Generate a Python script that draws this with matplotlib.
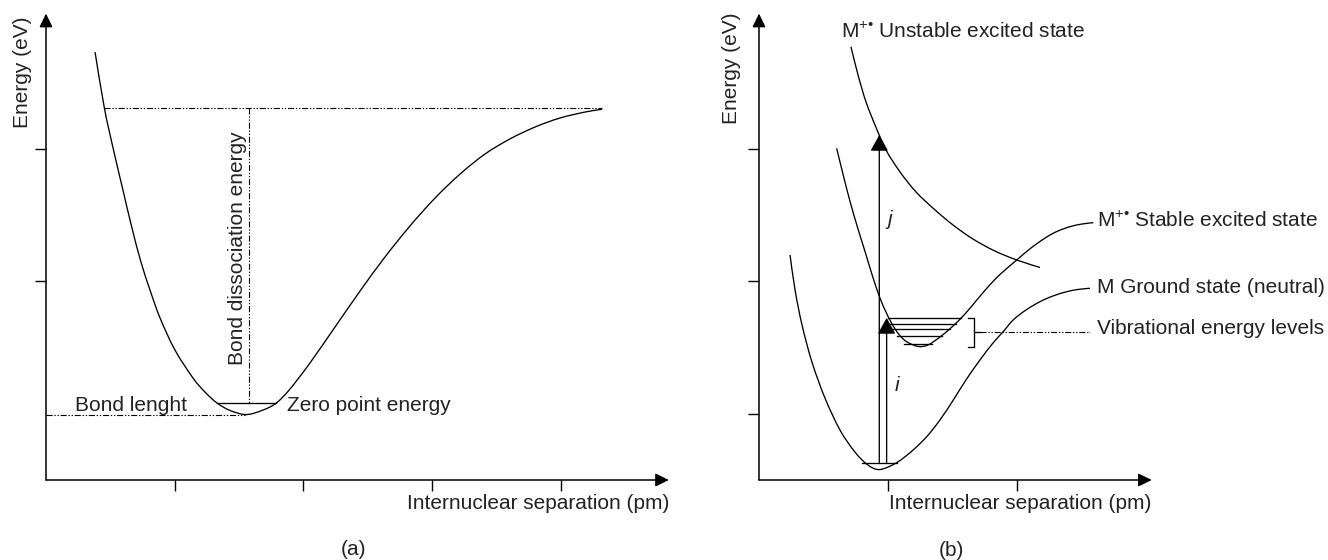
import matplotlib.pyplot as plt
from matplotlib.path import Path
from matplotlib.patches import PathPatch

plt.rcParams['font.family'] = ['Liberation Sans', 'DejaVu Sans']
plt.rcParams['mathtext.fontset'] = 'custom'
plt.rcParams['mathtext.rm'] = 'Liberation Sans'
plt.rcParams['mathtext.it'] = 'Liberation Sans:italic'

# (a) potential well
well_x = [0.381, 0.453, 0.521, 0.594, 0.668, 0.738, 0.808, 0.886, 1.002, 1.142, 1.235, 1.329,
          1.430, 1.554, 1.678, 1.787, 1.896, 2.051, 2.246, 2.440, 2.634, 2.828, 3.023, 3.217,
          3.411, 3.605, 3.800, 3.994, 4.188, 4.320]
well_y = [3.230, 2.810, 2.506, 2.204, 1.902, 1.645, 1.434, 1.223, 0.981, 0.770, 0.664, 0.581,
          0.525, 0.494, 0.525, 0.579, 0.687, 0.883, 1.155, 1.426, 1.683, 1.917, 2.128, 2.309,
          2.460, 2.574, 2.664, 2.732, 2.777, 2.798]
dissoc_y = 2.804
dissoc_x = [0.453, 4.320]
zero_point_y = 0.581
zero_point_x = [1.329, 1.790]
r_eq = 1.580
bond_len_y = 0.491

# (b) ground state, stable and unstable excited states
ground_x = [0.241, 0.280, 0.334, 0.411, 0.512, 0.629, 0.745, 0.846, 0.939, 1.069, 1.188, 1.302,
            1.405, 1.509, 1.607, 1.716, 1.817, 1.894, 1.974, 2.073, 2.182, 2.283, 2.389, 2.477,
            2.570]
ground_y = [1.698, 1.434, 1.170, 0.891, 0.619, 0.377, 0.211, 0.113, 0.079, 0.131, 0.219, 0.327,
            0.453, 0.604, 0.755, 0.906, 1.034, 1.117, 1.208, 1.283, 1.346, 1.389, 1.421, 1.438,
            1.447]
stable_x = [0.603, 0.656, 0.710, 0.769, 0.827, 0.881, 0.939, 0.986, 1.033, 1.087, 1.149, 1.237,
            1.312, 1.405, 1.498, 1.592, 1.685, 1.778, 1.871, 2.001, 2.112, 2.234, 2.321, 2.415,
            2.508, 2.596]
stable_y = [2.503, 2.294, 2.091, 1.894, 1.713, 1.540, 1.374, 1.268, 1.177, 1.098, 1.042, 1.008,
            1.019, 1.079, 1.155, 1.245, 1.351, 1.457, 1.551, 1.660, 1.751, 1.834, 1.879, 1.912,
            1.932, 1.942]
unstable_x = [0.714, 0.769, 0.831, 0.901, 0.986, 1.095, 1.219, 1.359, 1.506, 1.661, 1.832, 2.003,
              2.182]
unstable_y = [3.270, 3.057, 2.853, 2.679, 2.491, 2.325, 2.174, 2.045, 1.925, 1.819, 1.728, 1.660,
              1.604]
ground_zero_y = 0.131
ground_zero_x = [0.797, 1.069]
vib_y = [1.223, 1.181, 1.140, 1.087, 1.030]
vib_left = [1.005, 1.018, 1.035, 1.070, 1.126]
vib_right = [1.568, 1.530, 1.483, 1.421, 1.343]
arrow_j = (0.934, 2.604)
arrow_i = (0.991, 1.223)

dashdot = (0, (5.5, 1.6, 1.2, 1.6, 1.2, 1.6))
lw = 0.95
fs = 15
tc = '#222222'


def smooth_curve(ax, xs, ys):
    # draw a smooth curve through the read points (Catmull-Rom as Bezier path)
    pts = list(zip(xs, ys))
    verts = [pts[0]]
    codes = [Path.MOVETO]
    for i in range(len(pts) - 1):
        p0 = pts[max(i - 1, 0)]
        p1 = pts[i]
        p2 = pts[i + 1]
        p3 = pts[min(i + 2, len(pts) - 1)]
        c1 = (p1[0] + (p2[0] - p0[0]) / 6, p1[1] + (p2[1] - p0[1]) / 6)
        c2 = (p2[0] - (p3[0] - p1[0]) / 6, p2[1] - (p3[1] - p1[1]) / 6)
        verts += [c1, c2, p2]
        codes += [Path.CURVE4] * 3
    ax.add_patch(PathPatch(Path(verts, codes), fill=False, edgecolor='k', lw=lw))


fig = plt.figure(figsize=(13.28, 5.6), dpi=100)
ax_a = fig.add_axes([46 / 1328, 80 / 560, 622.9 / 1328, 466.4 / 560])
ax_b = fig.add_axes([759 / 1328, 80 / 560, 392.8 / 1328, 466.4 / 560])
ax_a.set_xlim(0, 4.84)
ax_b.set_xlim(0, 3.05)

for ax in (ax_a, ax_b):
    ax.set_ylim(0, 3.52)
    for s in ax.spines.values():
        s.set_visible(False)
    ax.tick_params(direction='out', length=8, width=1, labelbottom=False, labelleft=False)
    # axes with arrow heads
    for tip in [(1, 0), (0, 1)]:
        ax.annotate('', xy=tip, xytext=(0, 0), xycoords='axes fraction',
                    arrowprops=dict(arrowstyle='-|>,head_length=0.45,head_width=0.22',
                                    color='k', lw=1.1, mutation_scale=18,
                                    shrinkA=0, shrinkB=0))
    ax.text(1.0, -0.178, 'Internuclear separation (pm)', transform=ax.get_yaxis_transform(),
            ha='right', va='center', fontsize=fs, color=tc)

ax_a.set_xticks([1, 2, 3, 4])
ax_a.set_yticks([1.5, 2.5])
ax_b.set_xticks([1, 2])
ax_b.set_yticks([0.5, 1.5, 2.5])

# ---- panel (a)
smooth_curve(ax_a, well_x, well_y)
ax_a.plot(dissoc_x, [dissoc_y, dissoc_y], color='k', lw=0.8, ls=dashdot)
ax_a.plot([r_eq, r_eq], [dissoc_y, zero_point_y], color='k', lw=0.8, ls=dashdot)
ax_a.plot(zero_point_x, [zero_point_y, zero_point_y], color='k', lw=lw)
ax_a.plot([0, 1.55], [bond_len_y, bond_len_y], color='k', lw=0.8, ls=dashdot)

ax_a.text(-0.179, 3.08, 'Energy (eV)', rotation=90, ha='center', va='center', fontsize=fs, color=tc)
ax_a.text(1.488, 1.751, 'Bond dissociation energy', rotation=90, ha='center', va='center',
          fontsize=fs, color=tc)
ax_a.text(0.225, 0.523, 'Bond lenght', ha='left', va='baseline', fontsize=fs, color=tc)
ax_a.text(1.876, 0.523, 'Zero point energy', ha='left', va='baseline', fontsize=fs, color=tc)
ax_a.text(2.389, -0.528, '(a)', ha='center', va='center', fontsize=fs, color=tc, clip_on=False)

# ---- panel (b)
smooth_curve(ax_b, ground_x, ground_y)
smooth_curve(ax_b, stable_x, stable_y)
smooth_curve(ax_b, unstable_x, unstable_y)
ax_b.plot(ground_zero_x, [ground_zero_y, ground_zero_y], color='k', lw=lw)
for y, x0, x1 in zip(vib_y, vib_left, vib_right):
    ax_b.plot([x0, x1], [y, y], color='k', lw=lw)

for x, top in (arrow_j, arrow_i):
    ax_b.annotate('', xy=(x, top), xytext=(x, ground_zero_y),
                  arrowprops=dict(arrowstyle='-|>,head_length=0.45,head_width=0.25',
                                  color='k', lw=lw, mutation_scale=22, shrinkA=0, shrinkB=0))

# bracket for vibrational levels
ax_b.plot([1.625, 1.672, 1.672, 1.625], [vib_y[0], vib_y[0], 1.006, 1.006], color='k', lw=lw)
ax_b.plot([1.672, 1.716], [1.115, 1.115], color='k', lw=lw)
ax_b.plot([1.716, 2.570], [1.115, 1.115], color='k', lw=0.8, ls=dashdot)

ax_b.text(1.017, 1.965, 'j', style='italic', ha='center', va='center', fontsize=fs, color=tc)
ax_b.text(1.068, 0.712, 'i', style='italic', ha='center', va='center', fontsize=fs, color=tc)
ax_b.text(-0.21, 3.11, 'Energy (eV)', rotation=90, ha='center', va='center', fontsize=fs, color=tc)
ax_b.text(0.637, 3.381, 'M$^{+\u2022}$ Unstable excited state', ha='left', va='center',
          fontsize=fs, color=tc)
ax_b.text(2.622, 1.952, 'M$^{+\u2022}$ Stable excited state', ha='left', va='center',
          fontsize=fs, color=tc, clip_on=False)
ax_b.text(2.622, 1.453, 'M Ground state (neutral)', ha='left', va='center',
          fontsize=fs, color=tc, clip_on=False)
ax_b.text(2.622, 1.143, 'Vibrational energy levels', ha='left', va='center',
          fontsize=fs, color=tc, clip_on=False)
ax_b.text(1.491, -0.53, '(b)', ha='center', va='center', fontsize=fs, color=tc, clip_on=False)

fig.savefig('out.png', dpi=100)
